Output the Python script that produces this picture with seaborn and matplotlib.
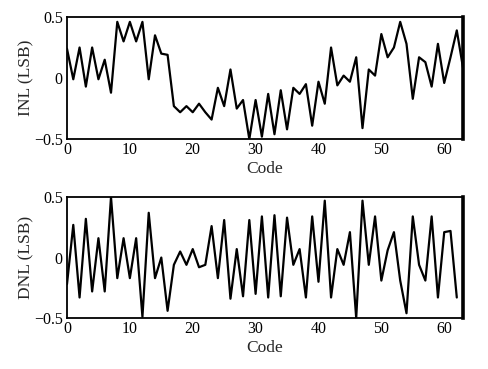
import numpy as np
import pandas as pd
import matplotlib
matplotlib.use("Agg")
import matplotlib.pyplot as plt
import seaborn as sns

inl = [0.24, -0.01, 0.25, -0.07, 0.25, -0.01, 0.15, -0.12, 0.46, 0.30,
       0.46, 0.30, 0.46, -0.01, 0.35, 0.20, 0.19, -0.23, -0.28, -0.23,
       -0.28, -0.21, -0.28, -0.34, -0.08, -0.23, 0.07, -0.25, -0.18, -0.50,
       -0.18, -0.48, -0.13, -0.46, -0.10, -0.42, -0.08, -0.13, -0.05, -0.39,
       -0.03, -0.21, 0.25, -0.06, 0.02, -0.03, 0.17, -0.41, 0.07, 0.02,
       0.36, 0.17, 0.25, 0.46, 0.28, -0.17, 0.17, 0.13, -0.07, 0.28,
       -0.04, 0.17, 0.39, 0.08]
dnl = [-0.22, 0.27, -0.33, 0.32, -0.28, 0.16, -0.28, 0.50, -0.17, 0.16,
       -0.17, 0.16, -0.49, 0.37, -0.17, 0.00, -0.44, -0.06, 0.05, -0.06,
       0.07, -0.08, -0.06, 0.26, -0.17, 0.31, -0.34, 0.07, -0.32, 0.31,
       -0.30, 0.34, -0.33, 0.35, -0.32, 0.33, -0.06, 0.07, -0.33, 0.34,
       -0.20, 0.47, -0.33, 0.07, -0.06, 0.21, -0.50, 0.47, -0.06, 0.34,
       -0.19, 0.06, 0.21, -0.19, -0.46, 0.34, -0.06, -0.19, 0.34, -0.33,
       0.21, 0.22, -0.33]

df_inl = pd.DataFrame({"code": np.arange(len(inl)), "val": inl})
df_dnl = pd.DataFrame({"code": np.arange(len(dnl)), "val": dnl})

sns.set_style("white")
plt.rcParams["font.family"] = ["Liberation Serif", "DejaVu Serif"]

fig = plt.figure(figsize=(4.89, 3.69), dpi=100)
ax1 = fig.add_axes([0.137, 0.623, 0.810, 0.331])
ax2 = fig.add_axes([0.137, 0.138, 0.810, 0.328])

for ax, d, lab in [(ax1, df_inl, "INL (LSB)"), (ax2, df_dnl, "DNL (LSB)")]:
    sns.lineplot(data=d, x="code", y="val", ax=ax, color="black", linewidth=1.6)
    ax.set_xlim(0, 63)
    ax.set_ylim(-0.5, 0.5)
    ax.set_xticks([0, 10, 20, 30, 40, 50, 60])
    ax.set_yticks([-0.5, 0, 0.5])
    ax.set_yticklabels(["\u22120.5", "0", "0.5"])
    ax.tick_params(axis="x", direction="in", length=4, width=1.2, pad=2,
                   labelsize=11.5, colors="black")
    ax.tick_params(axis="y", length=0, pad=3, labelsize=11.5, colors="black")
    for s in ax.spines.values():
        s.set_color("black")
        s.set_linewidth(1.3)
    ax.spines["right"].set_linewidth(2.6)
    ax.set_xlabel("Code", fontsize=12.5, labelpad=2)
    ax.set_ylabel(lab, fontsize=12.5, labelpad=0)

fig.savefig("out.png", dpi=100)
